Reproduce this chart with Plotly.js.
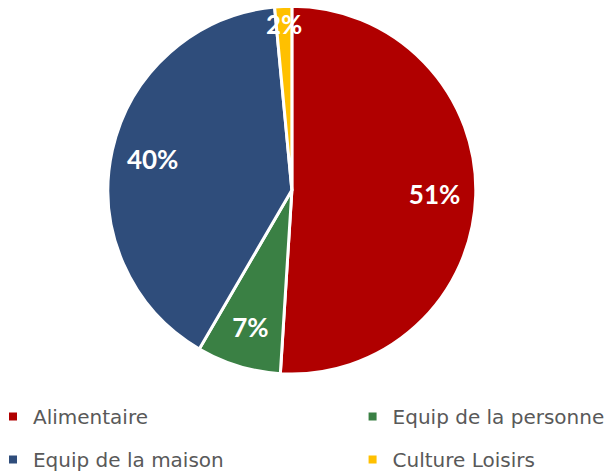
<!DOCTYPE html>
<html>
<head>
<meta charset="utf-8">
<script src="https://cdn.plot.ly/plotly-3.0.1.min.js"></script>
<style>
	html, body { margin: 0; padding: 0; background: #fff; }
	#chart { width: 610px; height: 472px; }
</style>
</head>
<body>
<div id="chart"></div>
<script>
const categories = [
	'Alimentaire',
	'Equip de la personne',
	'Equip de la maison',
	'Culture Loisirs',
];

const shares = [51.0, 7.4, 40.1, 1.5];

const sliceColors = ['#B00000', '#3A8044', '#2F4D7B', '#FFC000'];

// which legend column each category goes to
const legendColumn = ['legend', 'legend2', 'legend', 'legend2'];

// the pie itself, no text
var pie = {
	type: 'pie',
	labels: categories,
	values: shares,
	sort: false,
	direction: 'clockwise',
	rotation: 0,
	marker: {
		colors: sliceColors,
		line: {
			color: '#fff',
			width: 3,
		},
	},
	textinfo: 'none',
	showlegend: false,
	hoverinfo: 'label+percent',
	domain: {
		x: [0.177, 0.78],
		y: [0.2076, 0.987],
	},
};

// transparent ring on top, only used to push the percent labels outward
var labelsRing = {
	type: 'pie',
	labels: categories,
	values: shares,
	sort: false,
	direction: 'clockwise',
	rotation: 0,
	hole: 0.64,
	marker: {
		colors: categories.map(() => 'rgba(0,0,0,0)'),
		line: { width: 0 },
	},
	textinfo: 'percent',
	texttemplate: '%{percent:.0%}',
	textposition: 'inside',
	insidetextorientation: 'horizontal',
	textfont: {
		family: 'Lato, sans-serif',
		size: 26,
		color: '#fff',
		weight: 'bold',
	},
	showlegend: false,
	hoverinfo: 'skip',
	domain: {
		x: [0.1934, 0.7639],
		y: [0.2288, 0.9661],
	},
};

// legend entries
var legendItems = categories.map((name, i) => ({
	type: 'scatter',
	mode: 'markers',
	x: [null],
	y: [null],
	name: name,
	legend: legendColumn[i],
	legendgroup: name,
	marker: {
		symbol: 'square',
		size: 8,
		color: sliceColors[i],
	},
	hoverinfo: 'skip',
}));

var legendFont = {
	family: 'DejaVu Sans, sans-serif',
	size: 20,
	color: '#595959',
};

var layout = {
	width: 610,
	height: 472,
	margin: { l: 0, r: 0, t: 0, b: 0, autoexpand: false },
	paper_bgcolor: '#fff',
	plot_bgcolor: '#fff',
	xaxis: { visible: false },
	yaxis: { visible: false },
	uniformtext: { minsize: 26, mode: 'show' },
	showlegend: true,
	legend: {
		orientation: 'v',
		x: -0.0115,
		xanchor: 'left',
		y: 0.1589,
		yanchor: 'top',
		tracegroupgap: 14,
		font: legendFont,
		bgcolor: 'rgba(0,0,0,0)',
	},
	legend2: {
		orientation: 'v',
		x: 0.578,
		xanchor: 'left',
		y: 0.1589,
		yanchor: 'top',
		tracegroupgap: 14,
		font: legendFont,
		bgcolor: 'rgba(0,0,0,0)',
	},
};

var config = {
	staticPlot: true,
	displayModeBar: false,
};

Plotly.newPlot('chart', [pie, labelsRing].concat(legendItems), layout, config);
</script>
</body>
</html>
